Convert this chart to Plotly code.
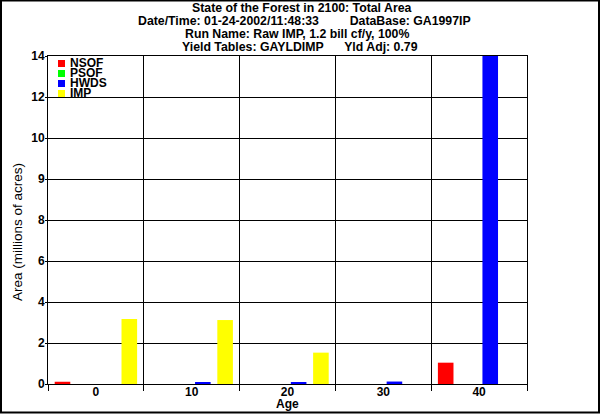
import plotly.graph_objects as go

# ---- data ----
ages = ["0", "10", "20", "30", "40"]
series_names = ["NSOF", "PSOF", "HWDS", "IMP"]
series_colors = ["#ff0000", "#00ff00", "#0000ff", "#ffff00"]
nsof = [0.11, 0.0, 0.0, 0.0, 1.04]
psof = [0.0, 0.0, 0.0, 0.0, 0.0]
hwds = [0.0, 0.07, 0.07, 0.12, 17.0]
imp = [3.17, 3.12, 1.53, 0.0, 0.0]
series_values = [nsof, psof, hwds, imp]

y_tickvals = [0, 2, 4, 6, 8, 10, 12, 14, 16]
y_ticktext = ["0", "2", "4", "6", "8", "9", "10", "12", "14"]

SP = "&nbsp;"
title_lines = [
    "State of the Forest in 2100: Total Area",
    "Date/Time: 01-24-2002/11:48:33" + SP * 9 + "DataBase: GA1997IP",
    "Run Name: Raw IMP, 1.2 bill cf/y, 100%",
    "Yield Tables: GAYLDIMP" + SP * 6 + "Yld Adj: 0.79",
]

# ---- layout geometry (pixels) ----
W, H = 600, 414
L, R, T, B = 48, 73, 56, 30
PW, PH = W - L - R, H - T - B


def px(x):
    return (x - L) / PW


def py(y):
    return (H - B - y) / PH


FONT = "Liberation Sans, Arial, sans-serif"

fig = go.Figure()
for name, color, vals in zip(series_names, series_colors, series_values):
    fig.add_trace(go.Bar(x=ages, y=vals, name=name, marker=dict(color=color, line=dict(width=0)),
                         showlegend=False))

annotations = []
# title lines
title_centers_y = [8, 21, 34, 47]
title_centers_x = [302, 304, 297, 300]
for txt, xc, yc in zip(title_lines, title_centers_x, title_centers_y):
    annotations.append(dict(text="<b>%s</b>" % txt, x=px(xc), y=py(yc), xref="paper", yref="paper",
                            xanchor="center", yanchor="middle", showarrow=False,
                            font=dict(family=FONT, size=12.3, color="black")))
# axis titles
annotations.append(dict(text="<b>Age</b>", x=px(287.5), y=py(404), xref="paper", yref="paper",
                        xanchor="center", yanchor="middle", showarrow=False,
                        font=dict(family=FONT, size=12, color="black")))
annotations.append(dict(text="Area (millions of acres)", x=px(17), y=py(232), xref="paper", yref="paper",
                        xanchor="center", yanchor="middle", textangle=-90, showarrow=False,
                        font=dict(family=FONT, size=13.5, color="black")))

shapes = []
# legend
for i, (name, color) in enumerate(zip(series_names, series_colors)):
    top = 60 + 10 * i
    shapes.append(dict(type="rect", xref="paper", yref="paper", x0=px(58), x1=px(65),
                       y0=py(top + 7), y1=py(top), fillcolor=color, line=dict(width=0)))
    annotations.append(dict(text="<b>%s</b>" % name, x=px(68), y=py(top + 3), xref="paper", yref="paper",
                            xanchor="left", yanchor="middle", showarrow=False,
                            font=dict(family=FONT, size=12, color="black")))
# outer border
shapes.append(dict(type="rect", xref="paper", yref="paper", x0=px(1), x1=px(W - 1),
                   y0=py(H - 1.5), y1=py(0.5), line=dict(color="black", width=2), layer="above"))

fig.update_layout(
    width=W, height=H,
    margin=dict(l=L, r=R, t=T, b=B, pad=0),
    paper_bgcolor="white", plot_bgcolor="white",
    barmode="group", bargap=0.07, bargroupgap=0.3,
    showlegend=False,
    annotations=annotations, shapes=shapes,
    font=dict(family=FONT, size=12, color="black"),
)
fig.update_xaxes(
    type="category", range=[-0.5, 4.5], tickson="boundaries",
    ticks="outside", ticklen=6, tickcolor="black", tickwidth=1,
    showgrid=True, gridcolor="black", gridwidth=1,
    showline=True, linecolor="black", linewidth=1, mirror=True,
    tickfont=dict(family=FONT, size=12, color="black"), tickprefix="<b>", ticksuffix="</b>",
    ticklabelstandoff=-3, zeroline=False, automargin=False,
)
fig.update_yaxes(
    range=[0, 16], tickvals=y_tickvals, ticktext=["<b>%s</b>" % t for t in y_ticktext],
    ticks="outside", ticklen=2, tickcolor="black", tickwidth=1,
    showgrid=True, gridcolor="black", gridwidth=1,
    showline=True, linecolor="black", linewidth=1, mirror=True,
    tickfont=dict(family=FONT, size=12, color="black"),
    ticklabelstandoff=-2, zeroline=False, automargin=False,
)

fig.write_html(
    "out.html",
    config={"displayModeBar": False},
    post_script="document.body.style.margin='0';document.body.style.overflow='hidden';",
)
